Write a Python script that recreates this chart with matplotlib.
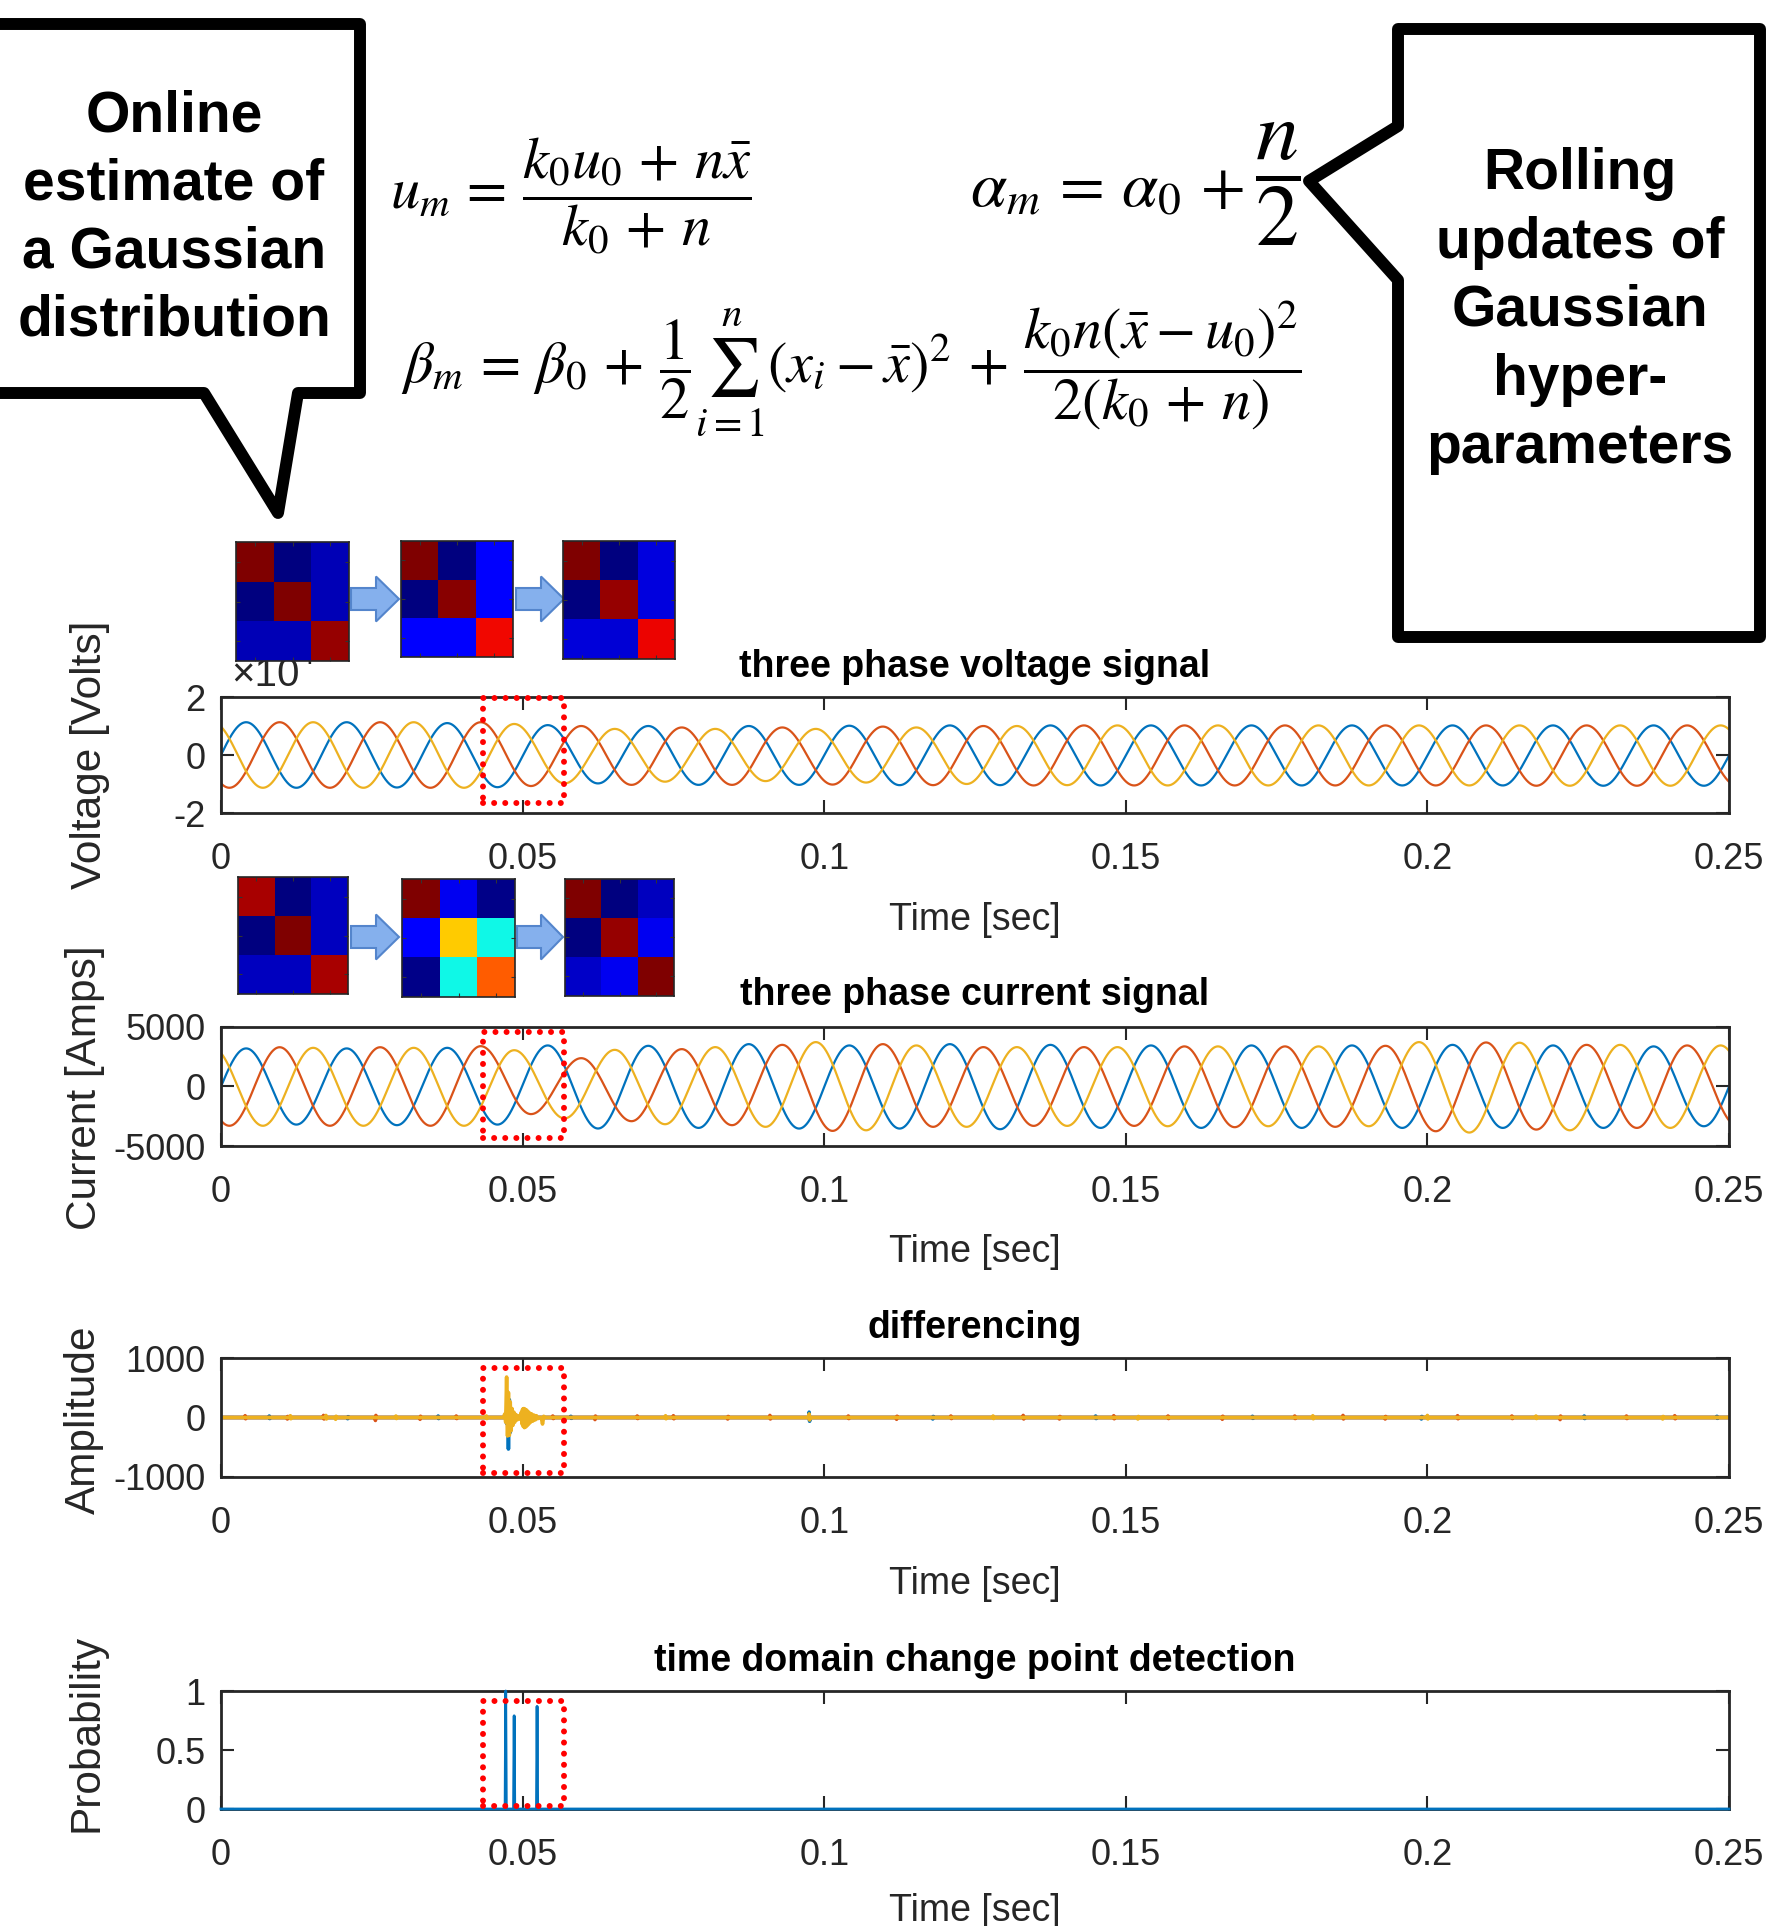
import numpy as np
import matplotlib
matplotlib.use("Agg")
import matplotlib.pyplot as plt
from matplotlib import font_manager
from matplotlib.patches import Polygon, Rectangle

# ====================== DATA ======================
F_SYS = 60.0                      # system frequency [Hz]
T_END = 0.25
XTICKS = [0, 0.05, 0.1, 0.15, 0.2, 0.25]
XTICKLABELS = ["0", "0.05", "0.1", "0.15", "0.2", "0.25"]

# time of the first (pre-zero) extremum of each phase [s]; extrema every half period
blue_t0 = -1 / 240
orange_t0 = -1 / 144
yellow_t0 = -1 / 720

# voltage: successive peak / trough values of each phase (x 10^4 V)
volt_blue = [-1.13, 1.13, -1.13, 1.13, -1.12, 1.10, -1.11, 1.03, -0.98, 1.00, -1.03, 1.00,
             -1.03, 1.01, -1.04, 1.02, -1.04, 1.02, -1.05, 1.02, -1.05, 1.02, -1.05, 1.02,
             -1.05, 1.02, -1.05, 1.02, -1.06, 1.02, -1.06, 1.02]
volt_orange = [1.13, -1.13, 1.13, -1.13, 1.13, -1.13, 1.13, -1.07, 1.00, -1.03, 0.95, -1.03,
               0.95, -1.02, 0.98, -1.04, 1.00, -1.05, 1.02, -1.05, 1.02, -1.05, 1.02, -1.05,
               1.02, -1.05, 1.02, -1.06, 1.02, -1.06, 1.02, -1.06]
volt_yellow = [1.13, -1.13, 1.13, -1.13, 1.13, -1.13, 1.07, -0.98, 0.90, -0.92, 0.90, -0.90,
               0.90, -0.95, 0.95, -1.00, 1.00, -1.04, 1.02, -1.05, 1.02, -1.05, 1.02, -1.05,
               1.02, -1.05, 1.02, -1.06, 1.02, -1.06, 1.02, -1.06]

# current: successive peak / trough values of each phase (A)
curr_blue = [-3200, 3200, -3200, 3200, -3250, 3250, -3200, 3450, -3530, 3420, -3480, 3560,
             -3535, 3450, -3535, 3560, -3590, 3500, -3480, 3450, -3480, 3450, -3480, 3450,
             -3480, 3500, -3480, 3450, -3480, 3370, -3340, 3300]
curr_orange = [3300, -3300, 3300, -3300, 3300, -3300, 3390, -2320, 2380, -2915, 3140, -3250,
               3500, -3730, 3560, -3390, 3310, -3310, 3310, -3310, 3370, -3420, 3370, -3390,
               3420, -3760, 3700, -3620, 3500, -3480, 3450, -3300]
curr_yellow = [3250, -3300, 3250, -3300, 3250, -3300, 3050, -2680, 3080, -3170, 3310, -3390,
               3730, -3680, 3450, -3390, 3310, -3310, 3310, -3340, 3370, -3340, 3370, -3340,
               3730, -3870, 3680, -3680, 3500, -3480, 3450, -3400]

# differencing: burst samples around the fault (time [s], amplitude)
diff_yellow_burst_t = [0.0468, 0.04705, 0.0472, 0.04735, 0.0475, 0.04765, 0.0478, 0.04795, 0.0481,
                       0.04825, 0.0484, 0.04855, 0.0487, 0.0489, 0.0491, 0.0494, 0.0496, 0.0498,
                       0.0499, 0.0500, 0.0501, 0.0502, 0.0503, 0.0504, 0.0505, 0.0506, 0.0507,
                       0.0508, 0.0509, 0.0510, 0.0511, 0.0512, 0.0513, 0.0515, 0.0517, 0.0519,
                       0.0521, 0.0523, 0.0525, 0.0527, 0.0531, 0.0533, 0.0535, 0.0537]
diff_yellow_burst_v = [0, 60, -80, 680, -310, 420, -300, 260, -220, 150, -130, 90, -80, 50, -40,
                       30, -30, 90, -110, 140, -150, 150, -170, 140, -160, 130, -140, 110, -120,
                       90, -100, 70, -80, 60, -60, 40, -40, 30, -20, 0, 0, -110, 20, 0]
diff_blue_burst_t = [0.0469, 0.0472, 0.04735, 0.0475, 0.04765, 0.0478, 0.04795, 0.0481, 0.0483,
                     0.0485, 0.0487, 0.0490, 0.0493, 0.0500, 0.0502, 0.0504, 0.0506, 0.0508, 0.0510]
diff_blue_burst_v = [0, 40, -100, 390, -530, 300, -250, 150, -120, 70, -50, 30, 0, 60, -70, 60,
                     -50, 40, 0]
diff_orange_burst_t = [0.0472, 0.0474, 0.04755, 0.0477, 0.0479, 0.0481, 0.0484]
diff_orange_burst_v = [0, 150, -200, 120, -90, 50, 0]
# differencing: small isolated blips (time [s], amplitude)
diff_orange_blip_t = [0.004, 0.011, 0.017, 0.0256, 0.033, 0.039, 0.055, 0.062, 0.069, 0.075,
                      0.084, 0.091, 0.104, 0.112, 0.121, 0.133, 0.139, 0.148, 0.157, 0.166,
                      0.178, 0.186, 0.193, 0.205, 0.214, 0.222, 0.233, 0.241]
diff_orange_blip_a = [30, -25, 35, -50, -30, 25, 25, -35, 25, 30, -25, 35, 25, -30, 25, 35, -25,
                      30, 25, -30, 25, 35, -25, 30, 25, -35, 25, 30]
diff_blue_blip_t = [0.008, 0.021, 0.036, 0.058, 0.0975, 0.118, 0.145, 0.171, 0.199, 0.226, 0.248]
diff_blue_blip_a = [25, -20, 25, 20, 90, -25, 25, 20, -25, 25, 20]
diff_yellow_blip_t = [0.0115, 0.0174, 0.019, 0.029, 0.044, 0.0737, 0.0975, 0.128, 0.152, 0.181,
                      0.200, 0.218, 0.239]
diff_yellow_blip_a = [30, 35, -30, 25, 25, 30, 60, 25, -25, 30, 35, 25, -25]

# change point probability
prob_t = [0, 0.0471, 0.0472, 0.0473, 0.0485, 0.0486, 0.0487, 0.0523, 0.0524, 0.0525, 0.25]
prob_v = [0, 0, 1.0, 0, 0, 0.79, 0, 0, 0.87, 0, 0]

# fault window highlighted by the dotted boxes
fault_t = (0.0434, 0.0569)
box_v_y = (-1.67, 1.96)
box_i_y = (-4300, 4600)
box_d_y = (-925, 840)
box_p_y = (0.025, 0.915)

# correlation matrices (jet colour scale 0..1)
v_cov_before = [[1.0, 0.0, 0.048], [0.0, 1.0, 0.048], [0.048, 0.048, 0.978]]
v_cov_during = [[1.0, 0.0, 0.115], [0.0, 0.99, 0.115], [0.12, 0.12, 0.90]]
v_cov_after = [[1.0, 0.0, 0.085], [0.0, 0.978, 0.085], [0.08, 0.075, 0.905]]
i_cov_before = [[0.963, 0.0, 0.055], [0.0, 1.0, 0.055], [0.055, 0.055, 0.963]]
i_cov_during = [[1.0, 0.1, 0.011], [0.115, 0.694, 0.37], [0.011, 0.37, 0.81]]
i_cov_after = [[1.0, 0.0, 0.055], [0.0, 0.978, 0.1], [0.066, 0.1, 1.0]]

# ====================== STYLE / LAYOUT ======================
W, H, DPI = 1766, 1926, 100


def has_font(name):
    try:
        font_manager.findfont(font_manager.FontProperties(family=name), fallback_to_default=False)
        return True
    except Exception:
        return False


NARROW = has_font("Liberation Sans Narrow")
REG = ["Liberation Sans", "DejaVu Sans"]
NAR = ["Liberation Sans Narrow", "Liberation Sans", "DejaVu Sans"] if NARROW else REG
TICK_SIZE = 30 if NARROW else 26
XLAB_SIZE = 31 if NARROW else 27
CALL_SIZE = 49.5 if NARROW else 41

plt.rcParams["font.family"] = REG
AXC = (0.15, 0.15, 0.15)
C_BLUE = (0.0, 0.447, 0.741)
C_ORANGE = (0.85, 0.325, 0.098)
C_YELLOW = (0.929, 0.694, 0.125)

fig = plt.figure(figsize=(W / DPI, H / DPI), dpi=DPI)


def fxy(x, y):
    return x / W, 1 - y / H


def ftext(x, y, s, **kw):
    return fig.text(x / W, 1 - y / H, s, **kw)


def add_axes_px(x0, y0, x1, y1, **kw):
    return fig.add_axes([x0 / W, 1 - y1 / H, (x1 - x0) / W, (y1 - y0) / H], **kw)


def wave(t0, values, t):
    te = t0 + np.arange(len(values)) / (2 * F_SYS)
    v = np.asarray(values, float)
    idx = np.clip(np.searchsorted(te, t, side="right") - 1, 0, len(te) - 2)
    s = (t - te[idx]) / (te[idx + 1] - te[idx])
    return 0.5 * (v[idx] + v[idx + 1]) + 0.5 * (v[idx] - v[idx + 1]) * np.cos(np.pi * s)


def diff_line(burst_t, burst_v, blip_t, blip_a):
    pts = [(0.0, 0.0), (T_END, 0.0)]
    pts += list(zip(burst_t, burst_v))
    for tb, a in zip(blip_t, blip_a):
        pts += [(tb - 0.00008, 0.0), (tb, a), (tb + 0.00008, -0.7 * a), (tb + 0.00016, 0.0)]
    pts.sort(key=lambda p: p[0])
    return np.array([p[0] for p in pts]), np.array([p[1] for p in pts])


def style_axes(ax, ylim, yticks, yticklabels):
    ax.set_xlim(0, T_END)
    ax.set_ylim(*ylim)
    ax.set_xticks(XTICKS)
    ax.set_xticklabels(XTICKLABELS)
    ax.set_yticks(yticks)
    ax.set_yticklabels(yticklabels)
    ax.tick_params(axis="both", direction="in", length=9.5, width=1.5, colors=AXC,
                   top=True, right=True, labelsize=TICK_SIZE)
    ax.tick_params(axis="x", pad=21)
    ax.tick_params(axis="y", pad=11)
    for lab in ax.get_xticklabels() + ax.get_yticklabels():
        lab.set_fontfamily(NAR)
    for sp in ax.spines.values():
        sp.set_linewidth(2.0)
        sp.set_color(AXC)


def fault_box(ax, yr):
    ax.add_patch(Rectangle((fault_t[0], yr[0]), fault_t[1] - fault_t[0], yr[1] - yr[0],
                           fill=False, edgecolor=(1, 0, 0), lw=4.3,
                           linestyle=(0, (0.01, 1.85)), capstyle="round",
                           clip_on=False, zorder=6))


t = np.linspace(0, T_END, 6001)

panels = [
    dict(rect=(221, 697, 1729, 813), ylim=(-2, 2), yt=[-2, 0, 2], ytl=["-2", "0", "2"],
         title="three phase voltage signal", ty=667, xly=920,
         ylab="Voltage [Volts]", ylxy=(90, 755), box=box_v_y),
    dict(rect=(221, 1027, 1729, 1146), ylim=(-5000, 5000), yt=[-5000, 0, 5000],
         ytl=["-5000", "0", "5000"], title="three phase current signal", ty=995, xly=1252,
         ylab="Current [Amps]", ylxy=(85, 1088), box=box_i_y),
    dict(rect=(221, 1358, 1729, 1477), ylim=(-1000, 1000), yt=[-1000, 0, 1000],
         ytl=["-1000", "0", "1000"], title="differencing", ty=1328, xly=1584,
         ylab="Amplitude", ylxy=(84, 1420), box=box_d_y),
    dict(rect=(221, 1691, 1729, 1809), ylim=(0, 1), yt=[0, 0.5, 1], ytl=["0", "0.5", "1"],
         title="time domain change point detection", ty=1661, xly=1911,
         ylab="Probability", ylxy=(87, 1733), box=box_p_y),
]

axes = []
for p in panels:
    ax = add_axes_px(*p["rect"])
    style_axes(ax, p["ylim"], p["yt"], p["ytl"])
    x0, y0, x1, y1 = p["rect"]
    ftext((x0 + x1) / 2, p["ty"], p["title"], ha="center", va="center",
          fontsize=27, fontweight="bold", color="black", family=REG)
    ftext((x0 + x1) / 2, p["xly"], "Time [sec]", ha="center", va="center",
          fontsize=XLAB_SIZE, color=AXC, family=NAR)
    ftext(p["ylxy"][0], p["ylxy"][1], p["ylab"], ha="center", va="center", rotation=90,
          fontsize=30.5, color=AXC, family=REG)
    fault_box(ax, p["box"])
    axes.append(ax)

axV, axI, axD, axP = axes
LW = 1.6
for t0, vals, c in [(blue_t0, volt_blue, C_BLUE), (orange_t0, volt_orange, C_ORANGE),
                    (yellow_t0, volt_yellow, C_YELLOW)]:
    axV.plot(t, wave(t0, vals, t), color=c, lw=LW)
for t0, vals, c in [(blue_t0, curr_blue, C_BLUE), (orange_t0, curr_orange, C_ORANGE),
                    (yellow_t0, curr_yellow, C_YELLOW)]:
    axI.plot(t, wave(t0, vals, t), color=c, lw=LW)
for bt, bv, lt, la, c in [
        (diff_blue_burst_t, diff_blue_burst_v, diff_blue_blip_t, diff_blue_blip_a, C_BLUE),
        (diff_orange_burst_t, diff_orange_burst_v, diff_orange_blip_t, diff_orange_blip_a, C_ORANGE),
        (diff_yellow_burst_t, diff_yellow_burst_v, diff_yellow_blip_t, diff_yellow_blip_a, C_YELLOW)]:
    dt, dv = diff_line(bt, bv, lt, la)
    axD.plot(dt, dv, color=c, lw=2.6)
axP.plot(prob_t, prob_v, color=C_BLUE, lw=2.0, clip_on=False, zorder=3)

# x 10^4 exponent label of the voltage axis
ftext(265, 675, "\u00d710", ha="center", va="center", fontsize=TICK_SIZE + 3, color=AXC,
      family=NAR)
ftext(306, 656, "4", ha="center", va="center", fontsize=22, color=AXC, family=NAR)

# correlation heat maps
hm_specs = [
    ((236, 542, 349, 661), v_cov_before), ((401, 541, 513, 657), v_cov_during),
    ((563, 541, 675, 659), v_cov_after),
    ((238, 877, 348, 994), i_cov_before), ((402, 879, 515, 997), i_cov_during),
    ((565, 879, 674, 996), i_cov_after),
]
for rect, mat in hm_specs:
    hax = add_axes_px(*rect)
    hax.set_zorder(5)
    hax.imshow(np.array(mat), cmap="jet", vmin=0, vmax=1, aspect="auto", interpolation="nearest")
    hax.set_xticks([0, 1, 2])
    hax.set_yticks([0, 1, 2])
    hax.tick_params(direction="in", length=3, width=0.8, colors=(0.2, 0.2, 0.2),
                    top=True, right=True, labelbottom=False, labelleft=False)
    for sp in hax.spines.values():
        sp.set_linewidth(1.2)
        sp.set_color((0.15, 0.15, 0.15))


def block_arrow(x0, xh, x1, yc, shaft_h, head_h):
    pts = [(x0, yc - shaft_h / 2), (xh, yc - shaft_h / 2), (xh, yc - head_h / 2), (x1, yc),
           (xh, yc + head_h / 2), (xh, yc + shaft_h / 2), (x0, yc + shaft_h / 2)]
    fig.add_artist(Polygon([fxy(x, y) for x, y in pts], closed=True, transform=fig.transFigure,
                           facecolor=(0.52, 0.69, 0.93), edgecolor=(0.33, 0.52, 0.80),
                           lw=1.5, joinstyle="miter", zorder=5))


block_arrow(351, 376, 399, 599, 22, 45)
block_arrow(516, 541, 564, 599, 22, 45)
block_arrow(351, 376, 399, 937, 22, 45)
block_arrow(517, 541, 563, 937, 22, 45)

# callouts
left_call = [(-30, 24), (360, 24), (360, 393), (298, 393), (278, 513), (204, 393), (-30, 393)]
right_call = [(1398, 29), (1760, 29), (1760, 637), (1398, 637), (1398, 280), (1309, 181),
              (1398, 126)]
for pts in (left_call, right_call):
    fig.add_artist(Polygon([fxy(x, y) for x, y in pts], closed=True, transform=fig.transFigure,
                           facecolor="white", edgecolor="black", lw=8.6, joinstyle="round",
                           zorder=1))

for s, y in zip(["Online", "estimate of", "a Gaussian", "distribution"], [117, 185, 253, 321]):
    ftext(174, y, s, ha="center", va="center", fontsize=CALL_SIZE, fontweight="bold",
          color="black", family=NAR)
for s, y in zip(["Rolling", "updates of", "Gaussian", "hyper-", "parameters"],
                [174, 243, 311, 380, 448]):
    ftext(1580, y, s, ha="center", va="center", fontsize=CALL_SIZE, fontweight="bold",
          color="black", family=NAR)

# equations
EQ = 42
ftext(571, 196, r"$u_m \,=\, \dfrac{k_0 u_0 \,+\, n\bar{x}}{k_0 \,+\, n}$", ha="center",
      va="center", fontsize=EQ, math_fontfamily="stix")
ftext(1244, 190, r"$\alpha_m \,=\, \alpha_0 \,+$", ha="right", va="center",
      fontsize=47, math_fontfamily="stix")
ftext(1278, 184, r"$\dfrac{n}{2}$", ha="center", va="center",
      fontsize=62, math_fontfamily="stix")
ftext(851, 368, r"$\beta_m \,=\, \beta_0 \,+\, \dfrac{1}{2}\sum_{i=1}^{n}(x_i - \bar{x})^2 \,+\, "
      r"\dfrac{k_0 n(\bar{x} - u_0)^2}{2(k_0 \,+\, n)}$", ha="center", va="center",
      fontsize=EQ, math_fontfamily="stix")

fig.savefig("out.png", dpi=DPI, facecolor="white")
